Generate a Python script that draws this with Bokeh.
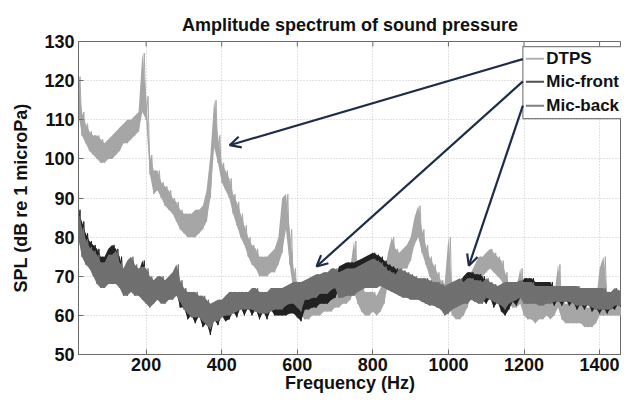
from bokeh.plotting import figure
from bokeh.models import Range1d, FixedTicker, Arrow, OpenHead
from bokeh.core.properties import value
from bokeh.embed import file_html
from bokeh.resources import INLINE

# ---- data: frequency grid in Hz, band low/high in dB per 10 Hz bin ----
freq_hz = list(range(20, 1490, 10))

dtps_lo = [112,106,104,102,101,100,99,99,100,100,
           101,102,104,104,105,106,107,112,110,96,
           91,92,90,88,87,86,84,82,81,80,
           80,80,81,82,84,90,103,99,94,92,
           90,86,83,80,78,75,73,72,70,70,
           70,71,71,73,76,82,73,66,62,60,
           59,59,60,60,60,61,61,61,62,62,
           63,63,64,66,63,61,60,60,61,60,
           61,63,68,72,72,71,72,72,74,78,
           80,76,73,70,68,66,64,62,64,60,
           59,59,60,62,65,68,70,70,71,72,
           71,70,69,66,63,62,62,63,60,59,
           59,58,59,59,60,59,60,62,59,58,
           58,58,58,58,57,57,57,58,60,60,
           60,60,60,60,60,60,60]
dtps_hi = [121,112,109,107,106,106,105,104,105,106,
           107,108,109,110,110,111,112,127,116,101,
           97,97,94,93,92,90,89,87,86,86,
           86,87,87,88,92,101,115,106,99,97,
           95,91,89,86,83,80,78,77,75,75,
           75,76,77,80,90,91,82,72,68,66,
           65,65,65,66,66,66,67,67,67,68,
           69,70,72,79,70,67,66,66,66,65,
           67,70,76,80,77,76,77,78,80,85,
           88,82,78,75,73,71,69,68,80,66,
           65,65,66,68,71,73,75,75,76,77,
           76,75,74,71,68,67,67,72,65,64,
           64,63,64,64,65,64,65,73,64,63,
           63,63,63,63,62,62,62,63,72,75,
           66,66,66,66,66,66,66]

front_lo = [81,76,74,73,71,69,68,68,69,69,
            69,68,66,66,67,66,66,65,64,63,
            64,65,64,64,65,65,66,62,62,59,
            60,58,60,57,58,55,59,57.5,60,58.5,
            59,61,59.5,62,60,62,60,61.5,59,61,
            59,61.5,60,60,60,60,60.5,60.5,59.5,58.5,
            61.5,61.5,62,62,63,63,63,64,64.5,66.5,
            66.5,67,67,67,68,68.5,69,69,69,69,
            69.5,69,68.5,68,67.5,66,65.5,65.5,65,65,
            65,64.5,64,63.5,63.5,63,62.5,61,61.5,62.5,
            63,63.5,64,64,65,64.5,64,64,63,64.5,
            62,63.5,61,60,61.5,63.5,62.5,64.5,64,64,
            64,64,63.5,63.5,64,64,62.5,64,62.5,64,
            62.5,63.5,61.5,63,61.5,63,61,62,60.5,62,
            60.5,62,61.5,63,61.5,62.5,60.5]
front_hi = [87,84,81,79,78,77,75,75,77,78,
            77,75,71,73,74,72,71,74,71,69,
            68,69,69,68,69,70,71,67,65,64,
            64,64,63,63,62,61,61.5,62,62.5,63,
            64,64,64,64,64,64,65,65,64,64,
            64,65,65,65,65,64.5,65,65.5,65.5,65.5,
            66,66.5,67,67.5,67.5,68,68,69,69,72.5,
            73,73.5,73.5,73.5,74,74.5,75,75.5,76,75.5,
            75,74,73,72.5,72,71,70.5,70,69.5,69,
            68.5,68.5,68.5,68,67.5,67.5,67,66.5,67,67.5,
            68,68.5,70,71,71,70.5,70.5,70,68,67,
            66.5,66,66.5,67,67,67,67,67.5,69.5,69.5,
            69.5,68.5,68.5,68.5,68.5,68.5,66.5,66.5,66.5,66.5,
            66.5,66.5,66.5,66,66,66,66,66,66,66,
            65,65,66,65.5,65,65,65]

back_lo = [80,75,73,72,70,68,67,67,68,68,
           68,67,65,65,66,65,65,64,63,62,
           63,64,63,63,64,64,65,63.5,61.5,60.5,
           59.5,59.5,59.5,58.5,57.5,56.5,58.5,58.5,59.5,60,
           60,60.5,61,61.5,61.5,61.5,61.5,61,60.5,60.5,
           60.5,61,61.5,61.5,61.5,62.5,63,63,62,61,
           64,64,64.5,64.5,65.5,65.5,65.5,66.5,67,64.5,
           64.5,65,65,65,66,66.5,67,67,67,67,
           67.5,67,66.5,66,65.5,65,64.5,64.5,64,64,
           64,63.5,63,62.5,62.5,62,61.5,60,60.5,61.5,
           62,62.5,63,63,64,63.5,63,63,64.5,64,
           63.5,63,62.5,61.5,63,63.5,64,64.5,63,63,
           63,63,62.5,62.5,63,63,63.5,63.5,63.5,63.5,
           63.5,63,62.5,62.5,62.5,62.5,62,61.5,61.5,61.5,
           61.5,61.5,62.5,62.5,62.5,62,61.5]
back_hi = [85.5,82.5,79.5,77.5,76.5,75.5,73.5,73.5,75.5,75.5,
           76.5,73.5,72,74,75,73,72,72.5,72,70,
           69,70,70,69,70,71,73,69,67,66,
           66,66,65,65,64,63,63.5,64,64,65,
           66,66,66,66,66,66,67,67,66,66,
           66,67,67,67,67,67.5,68,68.5,68.5,68.5,
           69,69.5,70,70.5,70.5,71,71,72,72,71,
           71.5,72,72,72,72.5,73,73.5,74,74.5,74,
           73.5,72.5,71.5,71,70.5,72,71.5,71,70.5,70,
           69.5,69.5,69.5,69,68.5,68.5,68,67.5,68,68.5,
           69,69.5,68.5,69.5,69.5,69,69,68.5,69.5,68.5,
           68,67.5,68,68.5,68.5,68.5,68.5,69,68.5,68.5,
           68.5,67.5,67.5,67.5,67.5,67.5,67.5,67.5,67.5,67.5,
           67.5,67.5,67.5,67,67,67,67,67,67,67,
           66,66,67,66.5,66,66,66]

series_names = ["DTPS", "Mic-front", "Mic-back"]
series_colors = ["#a6a6a6", "#222222", "#707070"]
legend_sample_colors = ["#b0b0b0", "#505050", "#808080"]

x_ticks = [200, 400, 600, 800, 1000, 1200, 1400]
y_ticks = [50, 60, 70, 80, 90, 100, 110, 120, 130]

# legend / arrow anchors (freq Hz, dB)
legend_left_f, legend_right_f = 1197, 1700
legend_bottom_db, legend_top_db = 110.3, 128.7
legend_line_f0, legend_line_f1, legend_text_f = 1205, 1253, 1259
legend_entry_db = [125.6, 119.7, 113.6]
arrow_start_f = [1197, 1197, 1197]
arrow_start_db = [125.5, 119.8, 113.6]
arrow_end_f = [421, 651, 1054]
arrow_end_db = [103.5, 72.5, 72.7]

FONT = "Liberation Sans"
AXIS_GRAY = "#6a6a6a"


def zigzag(lo, hi):
    xs, ys = [], []
    for f, a, b in zip(freq_hz, lo, hi):
        xs += [f, f + 5]
        ys += [a, b]
    return xs, ys


p = figure(width=621, height=395, x_range=Range1d(21, 1458), y_range=Range1d(50, 130),
           output_backend="svg", toolbar_location=None,
           min_border_left=78, min_border_right=0, min_border_top=41, min_border_bottom=38,
           title="Amplitude spectrum of sound pressure")
p.background_fill_color = "white"
p.border_fill_color = "white"
p.outline_line_color = AXIS_GRAY
p.title.align = "center"
p.title.text_font = FONT
p.title.text_font_size = "18px"
p.title.text_font_style = "bold"
p.title.text_color = "#111111"
p.title.standoff = 14

for ax in (p.xaxis[0], p.yaxis[0]):
    ax.major_label_text_font = FONT
    ax.major_label_text_font_size = "18px"
    ax.major_label_text_font_style = "bold"
    ax.major_label_text_color = "#111111"
    ax.axis_label_text_font = FONT
    ax.axis_label_text_font_size = "18px"
    ax.axis_label_text_font_style = "bold"
    ax.axis_label_text_color = "#111111"
    ax.axis_line_color = AXIS_GRAY
    ax.major_tick_line_color = AXIS_GRAY
    ax.major_tick_in = 5
    ax.major_tick_out = 0
    ax.minor_tick_line_color = None

p.xaxis.ticker = FixedTicker(ticks=x_ticks)
p.yaxis.ticker = FixedTicker(ticks=y_ticks)
p.xaxis.axis_label = "Frequency (Hz)"
p.yaxis.axis_label = "SPL (dB re 1 microPa)"
p.xaxis.major_label_standoff = 3
p.xaxis.axis_label_standoff = -1
p.yaxis.major_label_standoff = 4
p.yaxis.axis_label_standoff = 10

p.xgrid.ticker = FixedTicker(ticks=x_ticks)
p.ygrid.ticker = FixedTicker(ticks=y_ticks)
for g in (p.xgrid[0], p.ygrid[0]):
    g.grid_line_color = "#c4c4c4"
    g.grid_line_dash = "1 2"
    g.grid_line_width = 1

# top-edge tick marks (box axes)
p.segment(x0=x_ticks, x1=x_ticks, y0=[130] * len(x_ticks), y1=[128.7] * len(x_ticks),
          line_color=AXIS_GRAY, line_width=1)

for lo, hi, col in [(dtps_lo, dtps_hi, series_colors[0]),
                    (front_lo, front_hi, series_colors[1]),
                    (back_lo, back_hi, series_colors[2])]:
    p.varea(x=freq_hz, y1=lo, y2=hi, fill_color=col, fill_alpha=1.0)
    xs, ys = zigzag(lo, hi)
    p.line(xs, ys, line_color=col, line_width=1.0)

# legend box (clipped at the right edge like the original)
p.quad(left=[legend_left_f], right=[legend_right_f], bottom=[legend_bottom_db], top=[legend_top_db],
       fill_color="white", line_color="#808080", line_width=1.2)
p.segment(x0=[legend_line_f0] * 3, x1=[legend_line_f1] * 3, y0=legend_entry_db, y1=legend_entry_db,
          line_color=legend_sample_colors, line_width=2)
p.text(x=[legend_text_f] * 3, y=legend_entry_db, text=series_names,
       text_font=value(FONT), text_font_size="17px", text_font_style="bold",
       text_baseline="middle", text_align="left", text_color="#111111")

arrow_color = "#1d2d48"
for xs0, ys0, xe, ye in zip(arrow_start_f, arrow_start_db, arrow_end_f, arrow_end_db):
    p.add_layout(Arrow(end=OpenHead(size=11, line_width=2.2, line_color=arrow_color),
                       x_start=xs0, y_start=ys0, x_end=xe, y_end=ye,
                       line_color=arrow_color, line_width=2.2))

open("out.html", "w").write(file_html(p, INLINE))
